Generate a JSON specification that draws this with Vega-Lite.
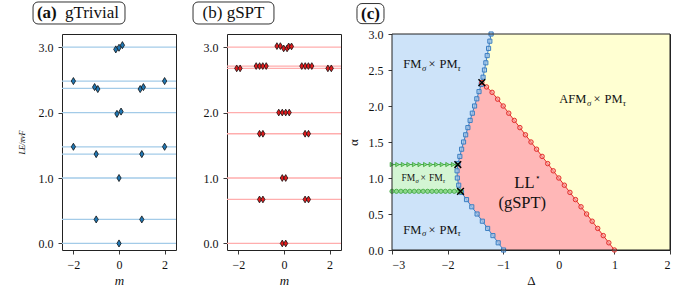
{
  "$schema": "https://vega.github.io/schema/vega-lite/v6.json",
  "padding": {"left": 17, "top": 0, "right": 5, "bottom": 0},
  "bounds": "flush",
  "spacing": 51,
  "config": {
    "font": "Liberation Serif",
    "view": {"stroke": "#222", "strokeWidth": 1},
    "axis": {"domain": false, "grid": false, "ticks": true, "tickSize": 4, "tickColor": "#222", "tickWidth": 0.9, "labelFont": "Liberation Serif", "labelFontSize": 12, "labelColor": "#111", "labelPadding": 5, "labelOverlap": false, "titleFont": "Liberation Serif", "titleFontSize": 13, "titleFontWeight": "normal", "titleColor": "#111"},
    "text": {"font": "Liberation Serif", "color": "#111"}
  },
  "datasets": {
    "blue": [
      {"a": 0.0, "d": -0.994}, {"a": 0.1, "d": -1.09}, {"a": 0.2, "d": -1.185}, {"a": 0.3, "d": -1.28}, {"a": 0.4, "d": -1.375},
      {"a": 0.5, "d": -1.47}, {"a": 0.6, "d": -1.565}, {"a": 0.7, "d": -1.66}, {"a": 0.8, "d": -1.75}, {"a": 0.9, "d": -1.8},
      {"a": 1.0, "d": -1.825}, {"a": 1.1, "d": -1.83}, {"a": 1.2, "d": -1.812}, {"a": 1.3, "d": -1.78}, {"a": 1.4, "d": -1.748},
      {"a": 1.5, "d": -1.713}, {"a": 1.6, "d": -1.675}, {"a": 1.7, "d": -1.635}, {"a": 1.8, "d": -1.595}, {"a": 1.9, "d": -1.555},
      {"a": 2.0, "d": -1.515}, {"a": 2.1, "d": -1.475}, {"a": 2.2, "d": -1.435}, {"a": 2.3, "d": -1.395}, {"a": 2.4, "d": -1.362},
      {"a": 2.5, "d": -1.337}, {"a": 2.6, "d": -1.312}, {"a": 2.7, "d": -1.288}, {"a": 2.8, "d": -1.263}, {"a": 2.9, "d": -1.24},
      {"a": 3.0, "d": -1.218}
    ],
    "red": [
      {"d": -1.384, "a": 2.325}, {"d": -1.3, "a": 2.265}, {"d": -1.2, "a": 2.19}, {"d": -1.1, "a": 2.095}, {"d": -1.0, "a": 2.0},
      {"d": -0.9, "a": 1.9}, {"d": -0.8, "a": 1.8}, {"d": -0.7, "a": 1.7}, {"d": -0.6, "a": 1.6}, {"d": -0.5, "a": 1.5},
      {"d": -0.4, "a": 1.4}, {"d": -0.3, "a": 1.3}, {"d": -0.2, "a": 1.2}, {"d": -0.1, "a": 1.1}, {"d": 0.0, "a": 1.0},
      {"d": 0.1, "a": 0.9}, {"d": 0.2, "a": 0.8}, {"d": 0.3, "a": 0.7}, {"d": 0.4, "a": 0.6}, {"d": 0.5, "a": 0.5},
      {"d": 0.6, "a": 0.4}, {"d": 0.7, "a": 0.3}, {"d": 0.8, "a": 0.2}, {"d": 0.9, "a": 0.1}, {"d": 1.0, "a": 0.0}
    ],
    "redarea": [
      {"d": -3.0, "a": 2.325}, {"d": -1.384, "a": 2.325}, {"d": -1.3, "a": 2.265}, {"d": -1.2, "a": 2.19}, {"d": -1.1, "a": 2.095},
      {"d": -1.0, "a": 2.0}, {"d": 1.0, "a": 0.0}
    ],
    "greenarea": [
      {"a": 0.815, "d": -1.768}, {"a": 0.9, "d": -1.8}, {"a": 1.0, "d": -1.825}, {"a": 1.1, "d": -1.83}, {"a": 1.187, "d": -1.816}
    ],
    "green": [
      {"s": "u", "d": -3.0, "a": 1.187}, {"s": "u", "d": -2.9, "a": 1.187}, {"s": "u", "d": -2.8, "a": 1.187}, {"s": "u", "d": -2.7, "a": 1.187},
      {"s": "u", "d": -2.6, "a": 1.187}, {"s": "u", "d": -2.5, "a": 1.187}, {"s": "u", "d": -2.4, "a": 1.187}, {"s": "u", "d": -2.3, "a": 1.187},
      {"s": "u", "d": -2.2, "a": 1.187}, {"s": "u", "d": -2.1, "a": 1.187}, {"s": "u", "d": -2.0, "a": 1.187}, {"s": "u", "d": -1.9, "a": 1.187},
      {"s": "u", "d": -1.816, "a": 1.187},
      {"s": "l", "d": -3.0, "a": 0.815}, {"s": "l", "d": -2.92, "a": 0.815}, {"s": "l", "d": -2.84, "a": 0.815}, {"s": "l", "d": -2.76, "a": 0.815},
      {"s": "l", "d": -2.68, "a": 0.815}, {"s": "l", "d": -2.6, "a": 0.815}, {"s": "l", "d": -2.52, "a": 0.815}, {"s": "l", "d": -2.44, "a": 0.815},
      {"s": "l", "d": -2.36, "a": 0.815}, {"s": "l", "d": -2.28, "a": 0.815}, {"s": "l", "d": -2.2, "a": 0.815}, {"s": "l", "d": -2.12, "a": 0.815},
      {"s": "l", "d": -2.04, "a": 0.815}, {"s": "l", "d": -1.96, "a": 0.815}, {"s": "l", "d": -1.88, "a": 0.815}, {"s": "l", "d": -1.8, "a": 0.815},
      {"s": "l", "d": -1.768, "a": 0.815}
    ],
    "xpts": [{"d": -1.384, "a": 2.325}, {"d": -1.816, "a": 1.187}, {"d": -1.768, "a": 0.815}],
    "lab3": [{"d": -2.282, "a": 2.58, "p": "FM"}, {"d": -2.282, "a": 0.28, "p": "FM"}, {"d": 0.686, "a": 2.093, "p": "AFM"}]
  },
  "hconcat": [
    {
      "width": 114, "height": 216,
      "layer": [
        {"data": {"values": [{"E": 0}, {"E": 0.367}, {"E": 1.0}, {"E": 1.365}, {"E": 1.477}, {"E": 2.0}, {"E": 2.369}, {"E": 2.481}, {"E": 3.0}]},
         "mark": {"type": "rule", "color": "#a3cbe8", "strokeWidth": 1.3},
         "encoding": {"y": {"field": "E", "type": "quantitative", "scale": {"domain": [-0.1, 3.2], "nice": false, "zero": false},
           "axis": {"values": [0, 0.5, 1, 1.5, 2, 2.5, 3], "labelOverlap": false, "labelExpr": "datum.value % 1 === 0 ? format(datum.value, '.1f') : ''", "title": "LE/πvF", "titleFontSize": 8, "titleFontStyle": "italic", "titlePadding": 12}}}},
        {"data": {"values": [
          {"m": 0, "E": 0}, {"m": -1, "E": 0.367}, {"m": 1, "E": 0.367}, {"m": 0, "E": 1.0},
          {"m": -1, "E": 1.365}, {"m": 1, "E": 1.365}, {"m": -2, "E": 1.477}, {"m": 2, "E": 1.477},
          {"m": -0.09, "E": 1.98}, {"m": 0.09, "E": 2.015},
          {"m": -1.07, "E": 2.389}, {"m": -0.93, "E": 2.359}, {"m": 0.93, "E": 2.359}, {"m": 1.07, "E": 2.389},
          {"m": -2, "E": 2.481}, {"m": 2, "E": 2.481},
          {"m": -0.14, "E": 2.965}, {"m": 0, "E": 2.99}, {"m": 0.15, "E": 3.03}
         ]},
         "mark": {"type": "point", "shape": "M0,-1L0.6,0L0,1L-0.6,0Z", "filled": true, "fill": "#1f77b4", "stroke": "#111", "strokeWidth": 0.8, "size": 50, "opacity": 1},
         "encoding": {
           "x": {"field": "m", "type": "quantitative", "scale": {"domain": [-2.5, 2.5], "nice": false, "zero": false},
             "axis": {"values": [-2, -1, 0, 1, 2], "labelOverlap": false, "labelExpr": "replace(datum.label, '-', '−')", "title": "m", "titleFontStyle": "italic", "titlePadding": 4}},
           "y": {"field": "E", "type": "quantitative"}}},
        {"data": {"values": [{}]},
         "mark": {"type": "rect", "cornerRadius": 5, "fill": "white", "stroke": "#333", "strokeWidth": 1},
         "encoding": {"x": {"datum": -3.77, "type": "quantitative"}, "x2": {"datum": 0.263},
           "y": {"datum": 3.689, "type": "quantitative"}, "y2": {"datum": 3.353}}},
        {"data": {"values": [{}]},
         "mark": {"type": "text", "text": "(a)", "fontSize": 17, "fontWeight": "bold", "baseline": "middle", "align": "center"},
         "encoding": {"x": {"datum": -3.167, "type": "quantitative"}, "y": {"datum": 3.521, "type": "quantitative"}}},
        {"data": {"values": [{}]},
         "mark": {"type": "text", "text": "gTrivial", "fontSize": 17, "baseline": "middle", "align": "center"},
         "encoding": {"x": {"datum": -1.184, "type": "quantitative"}, "y": {"datum": 3.521, "type": "quantitative"}}}
      ]
    },
    {
      "width": 114, "height": 216,
      "layer": [
        {"data": {"values": [{"E": 0}, {"E": 0.672}, {"E": 1.0}, {"E": 1.676}, {"E": 2.0}, {"E": 2.675}, {"E": 2.71}, {"E": 3.0}]},
         "mark": {"type": "rule", "color": "#ffadad", "strokeWidth": 1.3},
         "encoding": {"y": {"field": "E", "type": "quantitative", "scale": {"domain": [-0.1, 3.2], "nice": false, "zero": false},
           "axis": {"values": [0, 0.5, 1, 1.5, 2, 2.5, 3], "labelOverlap": false, "labelExpr": "datum.value % 1 === 0 ? format(datum.value, '.1f') : ''", "title": null}}}},
        {"data": {"values": [
          {"m": -0.075, "E": 0}, {"m": 0.075, "E": 0},
          {"m": -1.075, "E": 0.672}, {"m": -0.925, "E": 0.672}, {"m": 0.925, "E": 0.672}, {"m": 1.075, "E": 0.672},
          {"m": -0.075, "E": 1.0}, {"m": 0.075, "E": 1.0},
          {"m": -1.075, "E": 1.676}, {"m": -0.925, "E": 1.676}, {"m": 0.925, "E": 1.676}, {"m": 1.075, "E": 1.676},
          {"m": -0.23, "E": 2.0}, {"m": -0.075, "E": 2.0}, {"m": 0.075, "E": 2.0}, {"m": 0.23, "E": 2.0},
          {"m": -2.075, "E": 2.675}, {"m": -1.925, "E": 2.675}, {"m": 1.925, "E": 2.675}, {"m": 2.075, "E": 2.675},
          {"m": -1.22, "E": 2.71}, {"m": -1.07, "E": 2.71}, {"m": -0.93, "E": 2.71}, {"m": -0.78, "E": 2.71},
          {"m": 0.78, "E": 2.71}, {"m": 0.93, "E": 2.71}, {"m": 1.07, "E": 2.71}, {"m": 1.22, "E": 2.71},
          {"m": -0.31, "E": 3.015}, {"m": -0.16, "E": 3.015}, {"m": -0.015, "E": 2.98}, {"m": 0.135, "E": 2.98},
          {"m": 0.205, "E": 3.01}, {"m": 0.33, "E": 3.01}
         ]},
         "mark": {"type": "point", "shape": "M0,-1L0.6,0L0,1L-0.6,0Z", "filled": true, "fill": "#e31a1c", "stroke": "#111", "strokeWidth": 0.8, "size": 46, "opacity": 1},
         "encoding": {
           "x": {"field": "m", "type": "quantitative", "scale": {"domain": [-2.5, 2.5], "nice": false, "zero": false},
             "axis": {"values": [-2, -1, 0, 1, 2], "labelOverlap": false, "labelExpr": "replace(datum.label, '-', '−')", "title": "m", "titleFontStyle": "italic", "titlePadding": 4}},
           "y": {"field": "E", "type": "quantitative"}}},
        {"data": {"values": [{}]},
         "mark": {"type": "rect", "cornerRadius": 5, "fill": "white", "stroke": "#333", "strokeWidth": 1},
         "encoding": {"x": {"datum": -3.99, "type": "quantitative"}, "x2": {"datum": -0.44},
           "y": {"datum": 3.689, "type": "quantitative"}, "y2": {"datum": 3.353}}},
        {"data": {"values": [{}]},
         "mark": {"type": "text", "text": "(b) gSPT", "fontSize": 17, "baseline": "middle", "align": "center"},
         "encoding": {"x": {"datum": -2.215, "type": "quantitative"}, "y": {"datum": 3.521, "type": "quantitative"}}}
      ]
    },
    {
      "width": 278, "height": 216,
      "layer": [
        {"data": {"name": "red"},
         "mark": {"type": "line", "color": "#e3302c", "strokeWidth": 1, "opacity": 0},
         "encoding": {
           "x": {"field": "d", "type": "quantitative", "scale": {"domain": [-3, 2], "nice": false, "zero": false},
             "axis": {"values": [-3, -2, -1, 0, 1, 2], "labelOverlap": false, "labelExpr": "replace(format(datum.value, 'd'), '-', '−')", "title": "Δ", "titlePadding": 4}},
           "y": {"field": "a", "type": "quantitative", "scale": {"domain": [0, 3], "nice": false, "zero": false},
             "axis": {"tickCount": 6, "labelOverlap": false, "labelSeparation": 0, "format": ".1f", "title": "α", "titlePadding": 8}}}},
        {"data": {"values": [{}]},
         "mark": {"type": "rect", "fill": "#ffffd2"},
         "encoding": {"x": {"datum": -3, "type": "quantitative"}, "x2": {"datum": 2}, "y": {"datum": 0, "type": "quantitative"}, "y2": {"datum": 3}}},
        {"data": {"name": "redarea"},
         "mark": {"type": "area", "fill": "#ffb7b7"},
         "encoding": {"x": {"field": "d", "type": "quantitative"}, "y": {"field": "a", "type": "quantitative"}, "y2": {"datum": 0}}},
        {"data": {"name": "blue"},
         "mark": {"type": "area", "orient": "horizontal", "fill": "#cde3f9"},
         "encoding": {"y": {"field": "a", "type": "quantitative"}, "x": {"field": "d", "type": "quantitative"}, "x2": {"datum": -3}}},
        {"data": {"name": "greenarea"},
         "mark": {"type": "area", "orient": "horizontal", "fill": "#d3f5d3"},
         "encoding": {"y": {"field": "a", "type": "quantitative"}, "x": {"field": "d", "type": "quantitative"}, "x2": {"datum": -3}}},
        {"data": {"name": "blue"},
         "mark": {"type": "line", "color": "#3d80c4", "strokeWidth": 1},
         "encoding": {"x": {"field": "d", "type": "quantitative"}, "y": {"field": "a", "type": "quantitative"}, "order": {"field": "a", "type": "quantitative"}}},
        {"data": {"name": "blue"},
         "mark": {"type": "point", "shape": "square", "filled": true, "fill": "#9cc3ea", "fillOpacity": 0.7, "stroke": "#3d7fc2", "strokeWidth": 1, "size": 17},
         "encoding": {"x": {"field": "d", "type": "quantitative"}, "y": {"field": "a", "type": "quantitative"}}},
        {"data": {"name": "red"},
         "mark": {"type": "line", "color": "#e3302c", "strokeWidth": 1},
         "encoding": {"x": {"field": "d", "type": "quantitative"}, "y": {"field": "a", "type": "quantitative"}}},
        {"data": {"name": "red"},
         "mark": {"type": "point", "shape": "circle", "filled": true, "fill": "#f8a0a0", "fillOpacity": 0.6, "stroke": "#e3302c", "strokeWidth": 1, "size": 20},
         "encoding": {"x": {"field": "d", "type": "quantitative"}, "y": {"field": "a", "type": "quantitative"}}},
        {"data": {"name": "green"},
         "mark": {"type": "line", "color": "#43a843", "strokeWidth": 1},
         "encoding": {"x": {"field": "d", "type": "quantitative"}, "y": {"field": "a", "type": "quantitative"}, "detail": {"field": "s"}}},
        {"data": {"name": "green"},
         "mark": {"type": "point", "filled": true, "fill": "#8fd88f", "stroke": "#3aa63a", "strokeWidth": 0.8, "size": 18, "opacity": 1},
         "encoding": {"x": {"field": "d", "type": "quantitative"}, "y": {"field": "a", "type": "quantitative"},
           "shape": {"field": "s", "type": "nominal", "scale": {"domain": ["u", "l"], "range": ["triangle-right", "circle"]}, "legend": null}}},
        {"data": {"name": "xpts"},
         "mark": {"type": "point", "shape": "M-1,-1L1,1M-1,1L1,-1", "filled": false, "stroke": "#000", "strokeWidth": 1.5, "size": 45, "opacity": 1},
         "encoding": {"x": {"field": "d", "type": "quantitative"}, "y": {"field": "a", "type": "quantitative"}}},
        {"data": {"name": "lab3"},
         "mark": {"type": "text", "align": "right", "baseline": "middle", "dx": -10.5, "fontSize": 12.5},
         "encoding": {"x": {"field": "d", "type": "quantitative"}, "y": {"field": "a", "type": "quantitative"}, "text": {"field": "p"}}},
        {"data": {"name": "lab3"},
         "mark": {"type": "text", "text": "σ", "align": "right", "baseline": "middle", "dx": -5.7, "dy": 3.5, "fontSize": 8.7, "fontStyle": "italic"},
         "encoding": {"x": {"field": "d", "type": "quantitative"}, "y": {"field": "a", "type": "quantitative"}}},
        {"data": {"name": "lab3"},
         "mark": {"type": "text", "text": "×", "align": "center", "baseline": "middle", "fontSize": 12.5},
         "encoding": {"x": {"field": "d", "type": "quantitative"}, "y": {"field": "a", "type": "quantitative"}}},
        {"data": {"name": "lab3"},
         "mark": {"type": "text", "text": "PM", "align": "left", "baseline": "middle", "dx": 7.6, "fontSize": 12.5},
         "encoding": {"x": {"field": "d", "type": "quantitative"}, "y": {"field": "a", "type": "quantitative"}}},
        {"data": {"name": "lab3"},
         "mark": {"type": "text", "text": "τ", "align": "left", "baseline": "middle", "dx": 25.7, "dy": 3.5, "fontSize": 8.7, "fontStyle": "italic"},
         "encoding": {"x": {"field": "d", "type": "quantitative"}, "y": {"field": "a", "type": "quantitative"}}},
        {"data": {"values": [{}]},
         "mark": {"type": "text", "text": "FM", "align": "right", "baseline": "middle", "dx": -8, "fontSize": 9.5},
         "encoding": {"x": {"datum": -2.44, "type": "quantitative"}, "y": {"datum": 1.0, "type": "quantitative"}}},
        {"data": {"values": [{}]},
         "mark": {"type": "text", "text": "σ", "align": "right", "baseline": "middle", "dx": -4.3, "dy": 2.6, "fontSize": 6.6, "fontStyle": "italic"},
         "encoding": {"x": {"datum": -2.44, "type": "quantitative"}, "y": {"datum": 1.0, "type": "quantitative"}}},
        {"data": {"values": [{}]},
         "mark": {"type": "text", "text": "×", "align": "center", "baseline": "middle", "fontSize": 9.5},
         "encoding": {"x": {"datum": -2.44, "type": "quantitative"}, "y": {"datum": 1.0, "type": "quantitative"}}},
        {"data": {"values": [{}]},
         "mark": {"type": "text", "text": "FM", "align": "left", "baseline": "middle", "dx": 5.8, "fontSize": 9.5},
         "encoding": {"x": {"datum": -2.44, "type": "quantitative"}, "y": {"datum": 1.0, "type": "quantitative"}}},
        {"data": {"values": [{}]},
         "mark": {"type": "text", "text": "τ", "align": "left", "baseline": "middle", "dx": 19.7, "dy": 2.6, "fontSize": 6.6, "fontStyle": "italic"},
         "encoding": {"x": {"datum": -2.44, "type": "quantitative"}, "y": {"datum": 1.0, "type": "quantitative"}}},
        {"data": {"values": [{}]},
         "mark": {"type": "text", "text": "LL", "align": "center", "baseline": "middle", "fontSize": 16.5},
         "encoding": {"x": {"datum": -0.619, "type": "quantitative"}, "y": {"datum": 0.93, "type": "quantitative"}}},
        {"data": {"values": [{}]},
         "mark": {"type": "text", "text": "⋆", "align": "left", "baseline": "middle", "dx": 11, "dy": -6, "fontSize": 9},
         "encoding": {"x": {"datum": -0.619, "type": "quantitative"}, "y": {"datum": 0.93, "type": "quantitative"}}},
        {"data": {"values": [{}]},
         "mark": {"type": "text", "text": "(gSPT)", "align": "center", "baseline": "middle", "fontSize": 16.5},
         "encoding": {"x": {"datum": -0.657, "type": "quantitative"}, "y": {"datum": 0.651, "type": "quantitative"}}},
        {"data": {"values": [{}]},
         "mark": {"type": "rect", "filled": false, "stroke": "#222", "strokeWidth": 1},
         "encoding": {"x": {"datum": -3, "type": "quantitative"}, "x2": {"datum": 2}, "y": {"datum": 0, "type": "quantitative"}, "y2": {"datum": 3}}},
        {"data": {"values": [{}]},
         "mark": {"type": "rect", "cornerRadius": 5, "fill": "white", "stroke": "#333", "strokeWidth": 1},
         "encoding": {"x": {"datum": -3.63, "type": "quantitative"}, "x2": {"datum": -3.144},
           "y": {"datum": 3.423, "type": "quantitative"}, "y2": {"datum": 3.144}}},
        {"data": {"values": [{}]},
         "mark": {"type": "text", "text": "(c)", "fontSize": 17, "fontWeight": "bold", "baseline": "middle", "align": "center"},
         "encoding": {"x": {"datum": -3.387, "type": "quantitative"}, "y": {"datum": 3.283, "type": "quantitative"}}}
      ]
    }
  ]
}
